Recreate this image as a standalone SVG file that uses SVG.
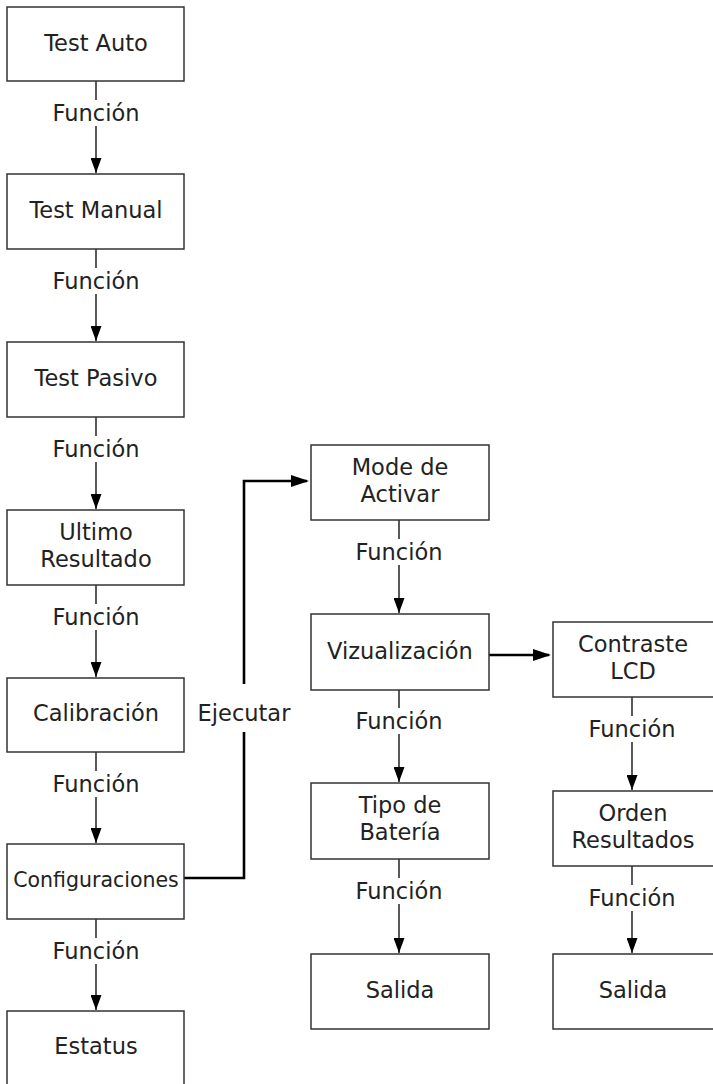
<svg xmlns="http://www.w3.org/2000/svg" width="713" height="1084" viewBox="0 0 713 1084">
<style>
.box{fill:#fff;stroke:#333;stroke-width:1.5}
.t{font-family:"DejaVu Sans",sans-serif;font-size:22.5px;fill:#222;text-anchor:middle}
.s{font-size:20.5px}
.thin{fill:none;stroke:#000;stroke-width:1.3}
.thick{fill:none;stroke:#000;stroke-width:2.6}
.bg{fill:#fff}
</style>
<defs>
<marker id="ah" viewBox="0 0 15 11" refX="15" refY="5.5" markerWidth="15" markerHeight="11" markerUnits="userSpaceOnUse" orient="auto"><path d="M0,0 L15,5.5 L0,11 z" fill="#000"/></marker>
<marker id="ahk" viewBox="0 0 18 12" refX="16" refY="6" markerWidth="18" markerHeight="12" markerUnits="userSpaceOnUse" orient="auto"><path d="M0,0 L18,6 L0,12 z" fill="#000"/></marker>
</defs>
<g id="connectors">
<path class="thin" d="M96,81 V173" marker-end="url(#ah)"/>
<path class="thin" d="M96,249 V341" marker-end="url(#ah)"/>
<path class="thin" d="M96,417 V509" marker-end="url(#ah)"/>
<path class="thin" d="M96,585 V677" marker-end="url(#ah)"/>
<path class="thin" d="M96,752 V843" marker-end="url(#ah)"/>
<path class="thin" d="M96,919 V1010" marker-end="url(#ah)"/>
<path class="thin" d="M399,520 V613" marker-end="url(#ah)"/>
<path class="thin" d="M399,690 V782" marker-end="url(#ah)"/>
<path class="thin" d="M399,859 V953" marker-end="url(#ah)"/>
<path class="thin" d="M632,697 V790" marker-end="url(#ah)"/>
<path class="thin" d="M632,866 V953" marker-end="url(#ah)"/>
<path class="thick" d="M184,878 H244 V481 H307" marker-end="url(#ahk)"/>
<path class="thick" d="M489,655 H549" marker-end="url(#ahk)"/>
<g>
<rect class="bg" x="46" y="100" width="100" height="26"/><text class="t" x="96" y="121">Función</text>
<rect class="bg" x="46" y="268" width="100" height="26"/><text class="t" x="96" y="289">Función</text>
<rect class="bg" x="46" y="436" width="100" height="26"/><text class="t" x="96" y="457">Función</text>
<rect class="bg" x="46" y="604" width="100" height="26"/><text class="t" x="96" y="625">Función</text>
<rect class="bg" x="46" y="771" width="100" height="26"/><text class="t" x="96" y="792">Función</text>
<rect class="bg" x="46" y="938" width="100" height="26"/><text class="t" x="96" y="959">Función</text>
<rect class="bg" x="349" y="539" width="100" height="26"/><text class="t" x="399" y="560">Función</text>
<rect class="bg" x="349" y="708" width="100" height="26"/><text class="t" x="399" y="729">Función</text>
<rect class="bg" x="349" y="878" width="100" height="26"/><text class="t" x="399" y="899">Función</text>
<rect class="bg" x="582" y="716" width="100" height="26"/><text class="t" x="632" y="737">Función</text>
<rect class="bg" x="582" y="885" width="100" height="26"/><text class="t" x="632" y="906">Función</text>
<rect class="bg" x="194" y="684" width="102" height="48"/><text class="t" x="244" y="721">Ejecutar</text>
</g>
</g>
<g id="n-test-auto"><rect class="box" x="7" y="7" width="177" height="74"/><text class="t" x="96" y="51">Test Auto</text></g>
<g id="n-test-manual"><rect class="box" x="7" y="174" width="177" height="75"/><text class="t" x="96" y="218">Test Manual</text></g>
<g id="n-test-pasivo"><rect class="box" x="7" y="342" width="177" height="75"/><text class="t" x="96" y="386">Test Pasivo</text></g>
<g id="n-ultimo"><rect class="box" x="7" y="510" width="177" height="75"/><text class="t" x="96" y="540">Ultimo</text><text class="t" x="96" y="567">Resultado</text></g>
<g id="n-calibracion"><rect class="box" x="7" y="678" width="177" height="74"/><text class="t" x="96" y="721">Calibración</text></g>
<g id="n-config"><rect class="box" x="7" y="844" width="177" height="75"/><text class="t s" x="96" y="887">Configuraciones</text></g>
<g id="n-estatus"><rect class="box" x="7" y="1011" width="177" height="80"/><text class="t" x="96" y="1054">Estatus</text></g>
<g id="n-mode"><rect class="box" x="311" y="445" width="178" height="75"/><text class="t" x="400" y="475">Mode de</text><text class="t" x="400" y="502">Activar</text></g>
<g id="n-viz"><rect class="box" x="311" y="614" width="178" height="76"/><text class="t" x="400" y="659">Vizualización</text></g>
<g id="n-tipo"><rect class="box" x="311" y="783" width="178" height="76"/><text class="t" x="400" y="813">Tipo de</text><text class="t" x="400" y="840">Batería</text></g>
<g id="n-salida1"><rect class="box" x="311" y="954" width="178" height="75"/><text class="t" x="400" y="998">Salida</text></g>
<g id="n-contraste"><rect class="box" x="553" y="622" width="164" height="75"/><text class="t" x="633" y="652">Contraste</text><text class="t" x="633" y="679">LCD</text></g>
<g id="n-orden"><rect class="box" x="553" y="791" width="164" height="75"/><text class="t" x="633" y="821">Orden</text><text class="t" x="633" y="848">Resultados</text></g>
<g id="n-salida2"><rect class="box" x="553" y="954" width="164" height="75"/><text class="t" x="633" y="998">Salida</text></g>
</svg>
